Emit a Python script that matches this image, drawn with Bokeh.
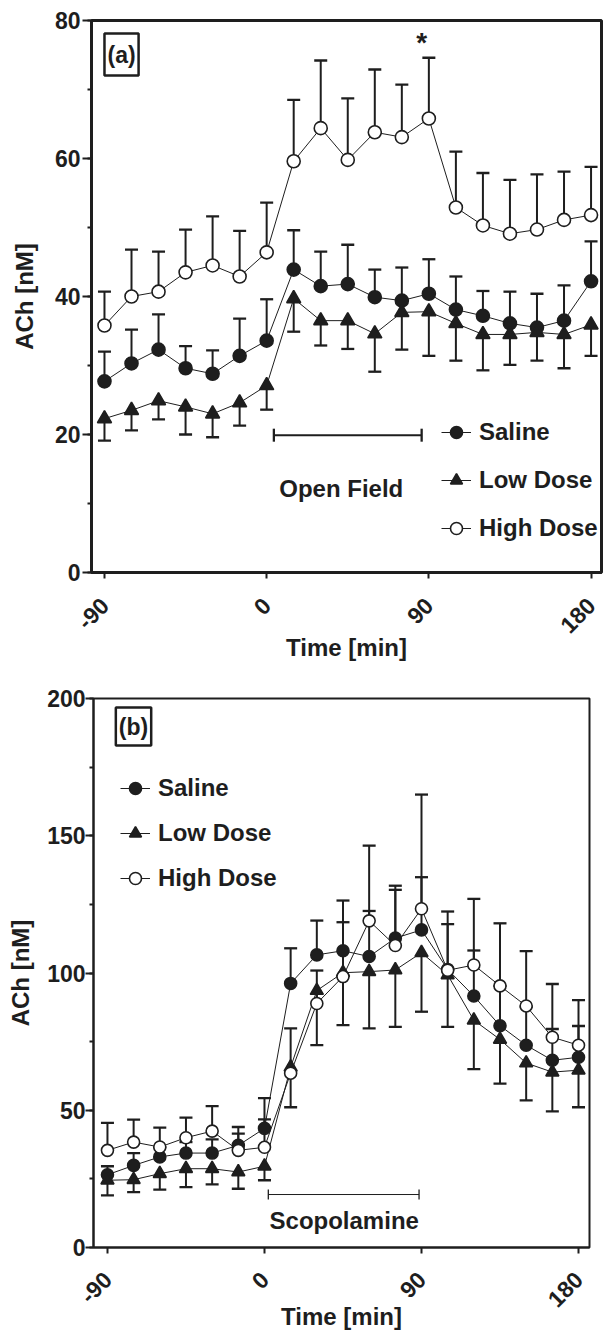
import math
from bokeh.plotting import figure
from bokeh.models import (Range1d, FixedTicker, SingleIntervalTicker, Legend,
                          LegendItem, Label, ColumnDataSource)
from bokeh.layouts import column
from bokeh.embed import file_html
from bokeh.resources import INLINE

FONT = "Liberation Sans"
INK = "#1e1e1e"

# ---------------- data ----------------
times = [-90, -75, -60, -45, -30, -15, 0, 15, 30, 45, 60, 75, 90, 105, 120, 135, 150, 165, 180]
x_ticks = [-90, 0, 90, 180]
x_tick_labels = ["-90", "0", "90", "180"]

# panel (a): Open Field
saline_a = [27.7, 30.3, 32.3, 29.6, 28.8, 31.4, 33.6, 43.9, 41.5, 41.8, 39.9, 39.4, 40.4, 38.1, 37.2, 36.1, 35.5, 36.5, 42.2]
saline_a_err = [4.3, 4.9, 5.1, 3.2, 3.4, 5.4, 6.0, 5.7, 5.0, 5.7, 4.0, 4.8, 5.0, 4.8, 3.6, 4.6, 4.9, 5.1, 5.8]
low_a = [22.3, 23.5, 24.9, 24.0, 23.0, 24.6, 27.1, 39.7, 36.5, 36.5, 34.6, 37.7, 37.8, 36.1, 34.5, 34.5, 34.8, 34.5, 35.9]
low_a_err = [3.2, 2.9, 2.7, 4.0, 3.4, 3.3, 3.5, 4.8, 3.6, 4.1, 5.5, 5.4, 6.4, 5.4, 5.2, 4.4, 4.1, 4.9, 4.5]
high_a = [35.8, 40.0, 40.7, 43.5, 44.5, 42.9, 46.4, 59.6, 64.4, 59.8, 63.8, 63.1, 65.8, 52.9, 50.3, 49.1, 49.7, 51.1, 51.8]
high_a_err = [4.9, 6.8, 5.8, 6.2, 7.1, 6.6, 7.2, 8.9, 9.8, 8.9, 9.1, 7.6, 8.8, 8.1, 7.6, 7.8, 8.0, 7.0, 7.0]

# panel (b): Scopolamine
saline_b = [26.5, 29.9, 33.0, 34.4, 34.4, 37.2, 43.4, 96.2, 106.6, 108.1, 106.0, 112.7, 115.7, 101.3, 91.6, 80.8, 73.7, 68.2, 69.3]
saline_b_err = [3.1, 4.5, 3.5, 4.0, 5.0, 6.7, 11.0, 12.8, 12.5, 18.3, 16.6, 17.6, 19.2, 16.5, 16.6, 14.5, 14.0, 11.4, 11.4]
low_b = [24.5, 24.7, 26.9, 28.7, 28.7, 27.5, 29.6, 65.7, 93.6, 100.1, 100.5, 101.1, 107.4, 99.3, 82.8, 75.8, 67.2, 63.9, 64.6]
low_b_err = [5.5, 4.5, 5.8, 6.7, 5.7, 6.1, 5.1, 14.6, 19.9, 19.1, 20.7, 20.7, 21.5, 18.9, 17.8, 16.1, 13.6, 14.3, 13.5]
high_b = [35.4, 38.4, 36.6, 40.0, 42.4, 35.4, 36.5, 63.5, 88.9, 98.7, 119.0, 110.0, 123.4, 101.0, 102.9, 95.3, 88.0, 76.6, 73.7]
high_b_err = [10.0, 8.2, 7.1, 7.3, 9.1, 6.1, 10.2, 16.3, 12.0, 19.8, 27.4, 21.8, 41.6, 21.4, 24.1, 22.8, 20.0, 19.4, 16.4]

series_names = ["Saline", "Low Dose", "High Dose"]

# treatment bars (start, end, y) and their captions
open_field_bar = (4, 86, 19.9)
open_field_text = (41.4, 12.2)
scop_bar = (2.2, 88.6, 19.3)
scop_text = (45.7, 9.9)
star_pos = (86, 76.8)


def style_axes(p, y_interval, lw):
    p.grid.visible = False
    p.outline_line_color = INK
    p.outline_line_width = lw
    p.background_fill_color = "white"
    p.border_fill_color = "white"
    for ax in (p.xaxis[0], p.yaxis[0]):
        ax.axis_line_width = lw
        ax.axis_line_color = INK
        ax.major_tick_line_color = INK
        ax.major_tick_line_width = 2
        ax.major_tick_in = 0
        ax.major_label_text_font = FONT
        ax.major_label_text_font_style = "bold"
        ax.major_label_text_font_size = "23px"
        ax.major_label_text_color = INK
        ax.axis_label_text_font = FONT
        ax.axis_label_text_font_style = "bold"
        ax.axis_label_text_font_size = "24px"
        ax.axis_label_text_color = INK
    p.xaxis.ticker = FixedTicker(ticks=x_ticks, minor_ticks=[])
    p.xaxis.major_label_overrides = dict(zip(x_ticks, x_tick_labels))
    p.xaxis.major_tick_out = 6
    p.xaxis.major_label_orientation = math.pi / 4
    p.xaxis.minor_tick_line_color = None
    p.yaxis.ticker = SingleIntervalTicker(interval=y_interval, num_minor_ticks=2)
    p.yaxis.major_tick_out = 9
    p.yaxis.minor_tick_out = 4
    p.yaxis.minor_tick_in = 0
    p.yaxis.minor_tick_line_width = 2
    p.yaxis.minor_tick_line_color = INK
    p.yaxis.major_label_standoff = 2
    p.xaxis.axis_label = "Time [min]"
    p.yaxis.axis_label = "ACh [nM]"


def add_errors(p, vals, errs, up, bar_w):
    ends = [v + e if up else v - e for v, e in zip(vals, errs)]
    src = ColumnDataSource(dict(t=times, v=vals, e=ends))
    p.segment(x0="t", y0="v", x1="t", y1="e", source=src, line_color=INK, line_width=bar_w)
    p.scatter(x="t", y="e", source=src, marker="dash", size=13, line_color=INK, line_width=bar_w + 0.3)
    return src


def build(p, data, msize, bar_w, legend_loc, legend_spacing, panel_text, panel_xy, panel_pad,
          bar, bar_lw, cap_size, bar_text, bar_label):
    specs = [("circle", INK, True), ("triangle", INK, False), ("circle", "white", True)]
    srcs = [add_errors(p, v, e, up, bar_w) for (v, e), (_, _, up) in zip(data, specs)]
    items = []
    for src, name, (marker, fill, up) in zip(srcs, series_names, specs):
        ln = p.line(x="t", y="v", source=src, line_color=INK, line_width=1)
        mk = p.scatter(x="t", y="v", source=src, marker=marker,
                       size=msize + (1 if marker == "triangle" else 0),
                       fill_color=fill, line_color=INK, line_width=1.6)
        items.append(LegendItem(label=name, renderers=[ln, mk]))
    leg = Legend(items=items, location=legend_loc, orientation="vertical",
                 border_line_color=None, background_fill_alpha=0, padding=0, margin=0,
                 spacing=legend_spacing, glyph_width=30, glyph_height=30, label_height=30,
                 label_standoff=8, label_text_font=FONT, label_text_font_style="bold",
                 label_text_font_size="24px", label_text_color=INK)
    p.add_layout(leg)
    # treatment bar with end caps
    bsrc = ColumnDataSource(dict(x0=[bar[0]], x1=[bar[1]], y=[bar[2]]))
    p.segment(x0="x0", y0="y", x1="x1", y1="y", source=bsrc, line_color=INK, line_width=bar_lw)
    csrc = ColumnDataSource(dict(x=[bar[0], bar[1]], y=[bar[2], bar[2]]))
    p.scatter(x="x", y="y", source=csrc, marker="dash", angle=math.pi / 2, size=cap_size,
              line_color=INK, line_width=bar_lw + 0.3)
    p.add_layout(Label(x=bar_text[0], y=bar_text[1], text=bar_label, text_align="center",
                       text_baseline="middle", text_font=FONT, text_font_style="bold",
                       text_font_size="24px", text_color=INK))
    p.add_layout(Label(x=panel_xy[0], y=panel_xy[1], text=panel_text, text_align="left",
                       text_baseline="top", text_font=FONT, text_font_style="bold",
                       text_font_size="23px", text_color=INK,
                       border_line_color=INK, border_line_width=2.5,
                       padding=dict(left=3, right=3, top=panel_pad, bottom=panel_pad)))


W = 604
pa = figure(width=W, height=665, x_range=Range1d(-97.2, 185.8), y_range=Range1d(0, 80),
            output_backend="svg", toolbar_location=None,
            min_border_left=91, min_border_right=3, min_border_top=20, min_border_bottom=93)
pa.frame_align = False
style_axes(pa, 20, 3)
pa.xaxis.major_label_standoff = 23
pa.xaxis.axis_label_standoff = -10
pa.yaxis.axis_label_standoff = 14
build(pa, [(saline_a, saline_a_err), (low_a, low_a_err), (high_a, high_a_err)],
      13, 2, (350, 29), 18, "(a)", (-90, 78.1), 8, open_field_bar, 2, 13, open_field_text, "Open Field")
pa.add_layout(Label(x=star_pos[0], y=star_pos[1], text="*", text_align="center",
                    text_baseline="alphabetic", text_font=FONT, text_font_style="bold",
                    text_font_size="28px", text_color=INK))

pb = figure(width=W, height=669, x_range=Range1d(-98, 186.3), y_range=Range1d(0, 200),
            output_backend="svg", toolbar_location=None,
            min_border_left=93, min_border_right=15, min_border_top=33, min_border_bottom=87)
pb.frame_align = False
style_axes(pb, 50, 2)
pb.yaxis.major_tick_out = 8
pb.yaxis.major_label_standoff = 0
pb.yaxis.axis_label_standoff = 10
pb.xaxis.major_label_standoff = 22
pb.xaxis.axis_label_standoff = -15
build(pb, [(saline_b, saline_b_err), (low_b, low_b_err), (high_b, high_b_err)],
      12, 2, (27, 354), 15, "(b)", (-85.2, 196.7), 6, scop_bar, 1, 10, scop_text, "Scopolamine")

layout = column(pa, pb, spacing=0)
open("out.html", "w").write(file_html(layout, INLINE))
